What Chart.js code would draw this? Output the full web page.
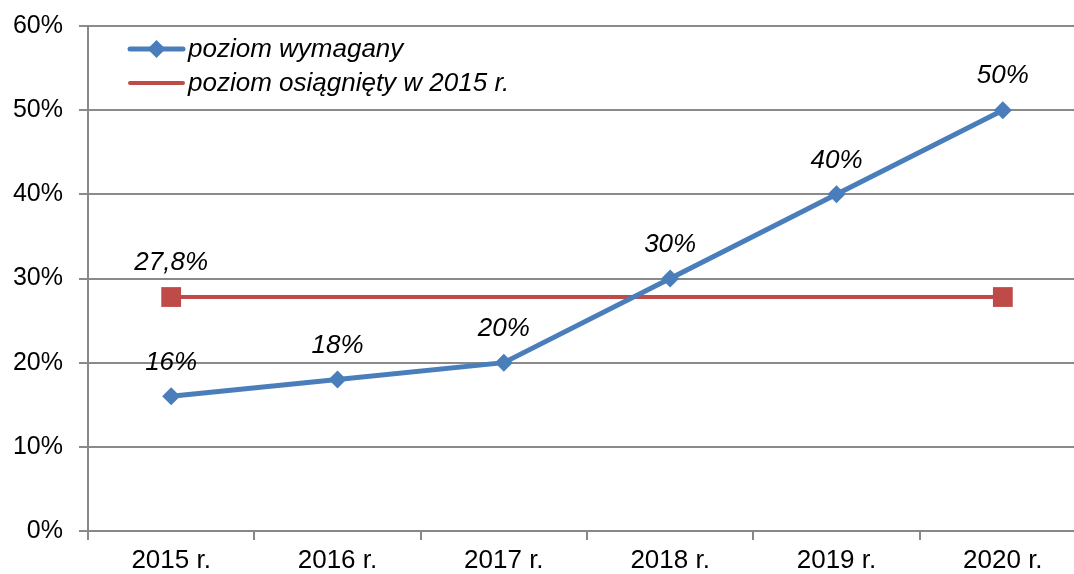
<!DOCTYPE html>
<html>
<head>
<meta charset="utf-8">
<script src="https://cdn.jsdelivr.net/npm/chart.js@4/dist/chart.umd.min.js"></script>
<style>
html,body{margin:0;padding:0;background:#fff;overflow:hidden;}
canvas{display:block;}
</style>
</head>
<body>
<canvas id="c" width="1100" height="574"></canvas>
<script>
const categories = ['2015 r.', '2016 r.', '2017 r.', '2018 r.', '2019 r.', '2020 r.'];
const requiredValues = [16, 18, 20, 30, 40, 50];
const requiredLabels = ['16%', '18%', '20%', '30%', '40%', '50%'];
const achievedValues = [27.8, 27.8, 27.8, 27.8, 27.8, 27.8];
const achievedLabels = ['27,8%', '', '', '', '', ''];
const seriesNames = ['poziom wymagany', 'poziom osiągnięty w 2015 r.'];
const yTicks = [0, 10, 20, 30, 40, 50, 60];

const FONT = '"Liberation Sans", Arial, sans-serif';
const BLUE = '#4A7EBB';
const RED = '#BE4B48';

const dataLabelPlugin = {
  id: 'dataLabels',
  afterDatasetsDraw(chart) {
    const ctx = chart.ctx;
    ctx.save();
    ctx.font = 'italic 26px ' + FONT;
    ctx.fillStyle = '#000';
    ctx.textAlign = 'center';
    ctx.textBaseline = 'middle';
    chart.data.datasets.forEach((ds, i) => {
      const meta = chart.getDatasetMeta(i);
      meta.data.forEach((pt, j) => {
        const t = ds.valueLabels[j];
        if (t) ctx.fillText(t, pt.x, pt.y - 34);
      });
    });
    ctx.restore();
  }
};

const legendPlugin = {
  id: 'customLegend',
  afterDraw(chart) {
    const ctx = chart.ctx;
    ctx.save();
    ctx.font = 'italic 26px ' + FONT;
    ctx.textBaseline = 'middle';
    ctx.fillStyle = '#000';
    const x0 = 130, x1 = 183;
    const rows = [49, 83];
    chart.data.datasets.forEach((ds, i) => {
      const y = rows[i];
      ctx.strokeStyle = ds.borderColor;
      ctx.lineWidth = ds.borderWidth;
      ctx.lineCap = 'round';
      ctx.beginPath(); ctx.moveTo(x0, y); ctx.lineTo(x1, y); ctx.stroke();
      if (i === 0) {
        const cx = (x0 + x1) / 2, r = 9;
        ctx.fillStyle = ds.borderColor;
        ctx.beginPath();
        ctx.moveTo(cx, y - r); ctx.lineTo(cx + r, y); ctx.lineTo(cx, y + r); ctx.lineTo(cx - r, y);
        ctx.closePath(); ctx.fill();
      }
      ctx.fillStyle = '#000';
      ctx.fillText(ds.label, x1 + 5, y + 1);
    });
    ctx.restore();
  }
};

new Chart(document.getElementById('c'), {
  type: 'line',
  data: {
    labels: categories,
    datasets: [
      {
        label: seriesNames[0],
        data: requiredValues,
        valueLabels: requiredLabels,
        borderColor: BLUE,
        backgroundColor: BLUE,
        borderWidth: 5,
        pointStyle: 'rectRot',
        pointRadius: 9,
        pointBorderWidth: 0,
        tension: 0
      },
      {
        label: seriesNames[1],
        data: achievedValues,
        valueLabels: achievedLabels,
        borderColor: RED,
        backgroundColor: RED,
        borderWidth: 4,
        pointStyle: 'rect',
        pointRadius: [14, 0, 0, 0, 0, 14],
        pointBorderWidth: 0,
        tension: 0
      }
    ]
  },
  plugins: [dataLabelPlugin, legendPlugin],
  options: {
    responsive: false,
    animation: false,
    layout: { padding: { top: 26, right: 12, left: 0, bottom: 0 } },
    plugins: { legend: { display: false }, tooltip: { enabled: false } },
    scales: {
      x: {
        offset: true,
        grid: { offset: true, drawOnChartArea: false, color: '#888', lineWidth: 2, tickLength: 9 },
        border: { color: '#888', width: 2 },
        ticks: { color: '#000', font: { family: FONT, size: 26 }, padding: 5 },
        afterFit(s) { s.height = 43; s.paddingLeft = 0; s.paddingRight = 0; }
      },
      y: {
        min: 0, max: 60,
        afterBuildTicks(s) { s.ticks = yTicks.map(v => ({ value: v })); },
        grid: { color: '#8a8a8a', lineWidth: 2, tickLength: 9 },
        border: { color: '#888', width: 2 },
        ticks: { color: '#000', font: { family: FONT, size: 25 }, padding: 16, callback: v => v + '%' },
        afterFit(s) { s.width = 88; s.paddingTop = 0; s.paddingBottom = 0; }
      }
    }
  }
});
</script>
</body>
</html>
